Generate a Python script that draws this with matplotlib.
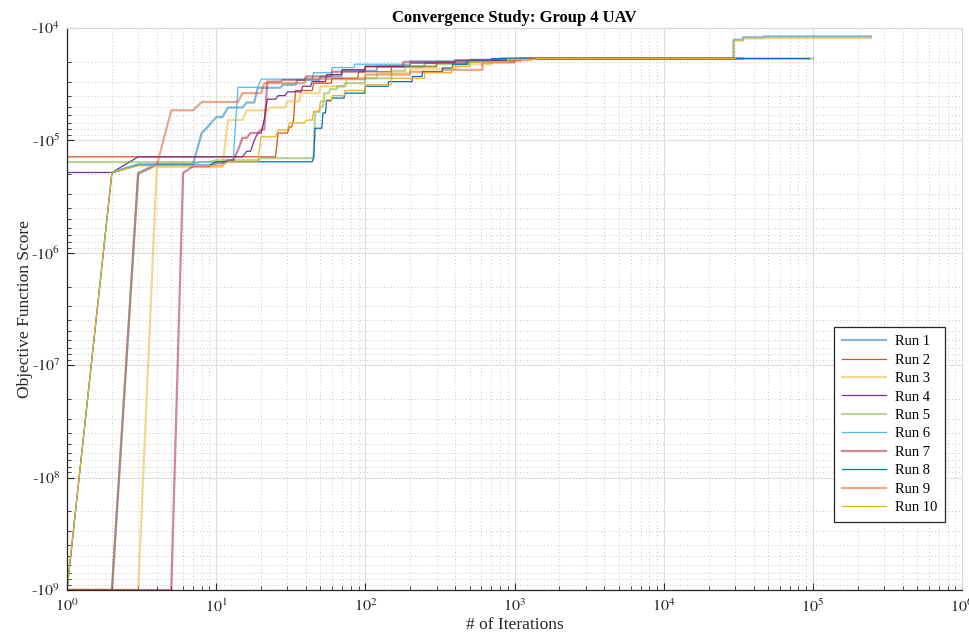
import numpy as np
import matplotlib
matplotlib.use("Agg")
import matplotlib.pyplot as plt
from matplotlib.ticker import FuncFormatter, LogLocator, NullFormatter

plt.rcParams['font.family'] = ['Liberation Serif', 'DejaVu Serif']
plt.rcParams['mathtext.fontset'] = 'stix'

## best-so-far objective value, only where it changes (iteration, score)
iters_run1 = [1, 3, 4, 8, 9, 10, 12, 16, 19, 28, 35, 50, 70, 120, 250, 500, 1100, 29400, 34000, 47000, 245000]
score_run1 = [-1e9, -1.95e5, -1.62e5, -8.6e4, -7.3e4, -6.2e4, -5.1e4, -4.6e4, -3.4e4, -3.2e4, -2.9e4,
              -2.7e4, -2.4e4, -2.2e4, -2.05e4, -1.95e4, -1.87e4, -1.27e4, -1.21e4, -1.19e4, -1.19e4]

iters_run2 = [1, 26, 31, 33, 34, 45, 60, 90, 150, 300, 600, 1000, 25000]
score_run2 = [-1.40e5, -8.6e4, -7.6e4, -6.6e4, -3.6e4, -3.1e4, -2.8e4, -2.45e4, -2.2e4, -2.0e4, -1.93e4,
              -1.87e4, -1.87e4]

iters_run3 = [1, 4, 12, 16, 23, 30, 37, 50, 75, 120, 200, 400, 700, 1100, 29400, 34000, 47000, 245000]
score_run3 = [-1e9, -1.72e5, -6.6e4, -5.4e4, -5.1e4, -4.5e4, -3.8e4, -3.3e4, -2.8e4, -2.5e4, -2.3e4,
              -2.1e4, -1.95e4, -1.87e4, -1.3e4, -1.24e4, -1.23e4, -1.23e4]

iters_run4 = [1, 3, 16, 18, 19, 21, 22, 26, 30, 38, 44, 55, 70, 100, 200, 400, 900, 30000]
score_run4 = [-1.93e5, -1.40e5, -1.25e5, -1.0e5, -8.6e4, -6.5e4, -4.3e4, -4.0e4, -3.7e4, -3.3e4, -3.0e4,
              -2.6e4, -2.35e4, -2.2e4, -2.05e4, -1.95e4, -1.87e4, -1.87e4]

iters_run5 = [1, 10, 20, 45, 46, 50, 53, 58, 65, 73, 100, 150, 185, 300, 500, 1000, 100000]
score_run5 = [-1.56e5, -1.50e5, -1.44e5, -1.40e5, -5.6e4, -5.0e4, -3.8e4, -3.5e4, -3.3e4, -3.1e4, -2.8e4,
              -2.4e4, -2.2e4, -2.1e4, -2.0e4, -1.87e4, -1.87e4]

iters_run6 = [1, 2, 3, 8, 13, 14, 20, 45, 60, 85, 200, 500, 800, 59000]
score_run6 = [-1e9, -1.90e5, -1.62e5, -1.55e5, -1.50e5, -3.37e4, -2.85e4, -2.5e4, -2.25e4, -2.1e4, -1.97e4,
              -1.9e4, -1.87e4, -1.87e4]

iters_run7 = [1, 6, 7, 10, 12, 14, 15, 17, 20, 22, 28, 40, 60, 100, 180, 400, 800, 34000]
score_run7 = [-1e9, -1.95e5, -1.70e5, -1.60e5, -1.50e5, -1.22e5, -9.5e4, -8.6e4, -8.0e4, -3.0e4, -2.9e4,
              -2.7e4, -2.45e4, -2.2e4, -2.0e4, -1.93e4, -1.87e4, -1.87e4]

iters_run8 = [1, 2, 3, 10, 45, 46, 52, 55, 60, 73, 100, 143, 207, 241, 329, 384, 480, 700, 95000]
score_run8 = [-1e9, -1.95e5, -1.66e5, -1.55e5, -1.42e5, -7.8e4, -5.7e4, -4.4e4, -4.2e4, -3.8e4, -3.3e4,
              -3.0e4, -2.7e4, -2.45e4, -2.27e4, -2.1e4, -1.97e4, -1.87e4, -1.87e4]

iters_run9 = [1, 3, 4, 5, 8, 15, 21, 40, 100, 200, 330, 610, 1000, 1300, 28000]
score_run9 = [-1e9, -1.99e5, -1.66e5, -5.4e4, -4.55e4, -3.8e4, -3.1e4, -2.85e4, -2.6e4, -2.45e4, -2.36e4,
              -2.03e4, -1.93e4, -1.87e4, -1.87e4]

iters_run10 = [1, 2, 3, 12, 20, 26, 31, 40, 45, 50, 60, 73, 100, 150, 250, 380, 500, 900, 1400, 30000]
score_run10 = [-1e9, -1.93e5, -1.68e5, -1.55e5, -9.3e4, -8.1e4, -7.0e4, -6.6e4, -5.5e4, -4.5e4, -4.0e4,
               -3.6e4, -3.2e4, -2.8e4, -2.5e4, -2.2e4, -2.0e4, -1.9e4, -1.87e4, -1.87e4]

run_iters = [iters_run1, iters_run2, iters_run3, iters_run4, iters_run5,
             iters_run6, iters_run7, iters_run8, iters_run9, iters_run10]
run_scores = [score_run1, score_run2, score_run3, score_run4, score_run5,
              score_run6, score_run7, score_run8, score_run9, score_run10]
run_labels = ['Run %d' % (i + 1) for i in range(10)]

# matlab default colour order
colors = ['#0072BD', '#D95319', '#EDB120', '#7E2F8E', '#77AC30', '#4DBEEE', '#A2142F']


def expand(its, vals):
    # value is held until the iteration before the next change
    xs, ys = [its[0]], [vals[0]]
    for k, v in zip(its[1:], vals[1:]):
        if k - 1 > xs[-1]:
            xs.append(k - 1)
            ys.append(ys[-1])
        xs.append(k)
        ys.append(v)
    return np.array(xs, dtype=float), np.array(ys, dtype=float)


fig = plt.figure(figsize=(9.7, 6.39), dpi=100)
ax = fig.add_axes([0.0691, 0.0767, 0.9227, 0.8795])

for i in range(10):
    x, y = expand(run_iters[i], run_scores[i])
    c = colors[i % 7]
    if i % 2 == 0:
        ax.plot(x, -y, color=c, lw=1.6, alpha=0.5, label=run_labels[i])
    else:
        ax.plot(x, -y, color=c, lw=0.9, label=run_labels[i])

ax.set_xscale('log')
ax.set_yscale('log')
ax.set_xlim(1, 1e6)
ax.set_ylim(1e9, 1e4)

ax.xaxis.set_major_locator(LogLocator(base=10, numticks=10))
ax.xaxis.set_minor_locator(LogLocator(base=10, subs=np.arange(2, 10), numticks=100))
ax.yaxis.set_major_locator(LogLocator(base=10, numticks=10))
ax.yaxis.set_minor_locator(LogLocator(base=10, subs=np.arange(2, 10), numticks=100))
ax.xaxis.set_minor_formatter(NullFormatter())
ax.yaxis.set_minor_formatter(NullFormatter())
ax.xaxis.set_major_formatter(FuncFormatter(lambda v, p: r'$10^{%d}$' % round(np.log10(v))))
ax.yaxis.set_major_formatter(FuncFormatter(lambda v, p: r'-$10^{%d}$' % round(np.log10(v))))

ax.grid(True, which='major', color='#dedede', lw=0.8, ls='-')
ax.grid(True, which='minor', color='#c8c8c8', lw=0.7, ls=(0, (1, 2.5)))
ax.set_axisbelow(True)

ax.tick_params(which='both', direction='in', colors='#262626', labelsize=11.5)
ax.tick_params(which='major', length=5, width=0.8)
ax.tick_params(axis='x', which='major', pad=6)
ax.tick_params(axis='y', which='major', pad=5)
ax.tick_params(which='minor', length=3, width=0.6)
for s in ['left', 'bottom']:
    ax.spines[s].set_color('#262626')
    ax.spines[s].set_linewidth(0.9)
for s in ['top', 'right']:
    ax.spines[s].set_color('#d8d8d8')
    ax.spines[s].set_linewidth(0.8)

ax.set_xlabel('# of Iterations', fontsize=12.5, color='#262626', labelpad=1)
ax.set_ylabel('Objective Function Score', fontsize=12.5, color='#262626', labelpad=-1)
ax.set_title('Convergence Study: Group 4 UAV', fontsize=12, fontweight='bold', pad=4)

leg = ax.legend(loc='upper right', bbox_to_anchor=(0.981, 0.468), borderaxespad=0,
                fontsize=10.5, fancybox=False, framealpha=1, edgecolor='#262626',
                handlelength=3.0, labelspacing=0.36, borderpad=0.55, handletextpad=0.6)
leg.get_frame().set_linewidth(0.9)

fig.savefig('out.png', dpi=100)
